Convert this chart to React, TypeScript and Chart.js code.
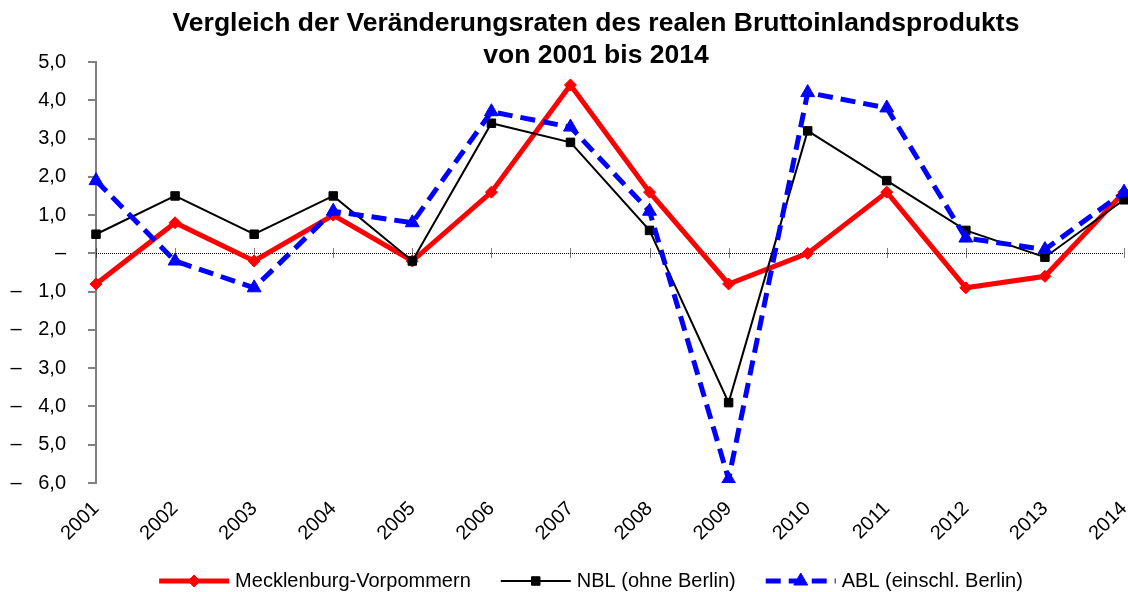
import React, { useEffect, useRef } from 'react';
import { Chart, registerables } from 'chart.js';
import { drawPoint } from 'chart.js/helpers';

Chart.register(...registerables);

const FONT = "'Liberation Sans', Arial, sans-serif";

// ---- data ----
const titleLines = [
  'Vergleich der Veränderungsraten des realen Bruttoinlandsprodukts',
  'von 2001 bis 2014',
];
const years = ['2001', '2002', '2003', '2004', '2005', '2006', '2007', '2008', '2009', '2010', '2011', '2012', '2013', '2014'];
const seriesNames = ['Mecklenburg-Vorpommern', 'NBL (ohne Berlin)', 'ABL (einschl. Berlin)'];
const mvValues = [-0.8, 0.8, -0.2, 1.0, -0.2, 1.6, 4.4, 1.6, -0.8, 0.0, 1.6, -0.9, -0.6, 1.6];
const nblValues = [0.5, 1.5, 0.5, 1.5, -0.2, 3.4, 2.9, 0.6, -3.9, 3.2, 1.9, 0.6, -0.1, 1.4];
const ablValues = [1.9, -0.2, -0.9, 1.1, 0.8, 3.7, 3.3, 1.1, -5.9, 4.2, 3.8, 0.4, 0.1, 1.6];
const yMin = -6;
const yMax = 5;
const yStep = 1;

// ---- layout ----
const W = 1128;
const H = 592;
const Y_AXIS_WIDTH = 96;
const X_AXIS_HEIGHT = 70;
const PLOT_TOP = 62;
const PLOT_BOTTOM_GAP = 39;
const PLOT_RIGHT_GAP = 4;
const TITLE_CENTER_X = 596;
const TITLE_BASELINES = [31, 63];
const LEGEND_CENTER_X = 591;
const LEGEND_Y = 581;

function formatTick(v: number): string {
  if (Math.abs(v) < 1e-9) return '–';
  const s = Math.abs(v).toFixed(1).replace('.', ',');
  return v < 0 ? '–   ' + s : s;
}

const zeroAxisPlugin = {
  id: 'zeroAxis',
  beforeDatasetsDraw(chart: any) {
    const { ctx, chartArea } = chart;
    const x = chart.scales.x;
    const y = chart.scales.y;
    const y0 = Math.round(y.getPixelForValue(0)) + 0.5;
    ctx.save();
    ctx.strokeStyle = '#000';
    ctx.lineWidth = 1;
    ctx.setLineDash([1, 1]);
    ctx.beginPath();
    ctx.moveTo(chartArea.left, y0);
    ctx.lineTo(chartArea.right, y0);
    ctx.stroke();
    for (let i = 0; i < years.length; i++) {
      const px = Math.round(x.getPixelForValue(i)) + 0.5;
      ctx.beginPath();
      ctx.moveTo(px, y0 - 5);
      ctx.lineTo(px, y0 + 5);
      ctx.stroke();
    }
    ctx.restore();
  },
};

const titlePlugin = {
  id: 'customTitle',
  afterDraw(chart: any) {
    const { ctx } = chart;
    ctx.save();
    ctx.font = `bold 26.5px ${FONT}`;
    ctx.fillStyle = '#000';
    ctx.textAlign = 'center';
    ctx.textBaseline = 'alphabetic';
    titleLines.forEach((t, i) => ctx.fillText(t, TITLE_CENTER_X, TITLE_BASELINES[i]));
    ctx.restore();
  },
};

const legendPlugin = {
  id: 'customLegend',
  afterDraw(chart: any) {
    const { ctx } = chart;
    const lineLen = 70;
    const textGap = 6;
    const itemGap = 30;
    ctx.save();
    ctx.font = `20px ${FONT}`;
    const dss = chart.data.datasets;
    const widths = dss.map((ds: any) => lineLen + textGap + ctx.measureText(ds.label).width);
    const total = widths.reduce((a: number, b: number) => a + b, 0) + itemGap * (dss.length - 1);
    let x = LEGEND_CENTER_X - total / 2;
    dss.forEach((ds: any, i: number) => {
      ctx.strokeStyle = ds.borderColor;
      ctx.lineWidth = ds.borderWidth;
      ctx.setLineDash(ds.borderDash || []);
      ctx.lineCap = 'butt';
      ctx.beginPath();
      ctx.moveTo(x, LEGEND_Y);
      ctx.lineTo(x + lineLen, LEGEND_Y);
      ctx.stroke();
      ctx.setLineDash([]);
      ctx.fillStyle = ds.pointBackgroundColor;
      ctx.strokeStyle = ds.pointBorderColor;
      ctx.lineWidth = ds.pointBorderWidth;
      drawPoint(ctx, { pointStyle: ds.pointStyle, rotation: 0, radius: ds.pointRadius, borderWidth: ds.pointBorderWidth } as any, x + lineLen / 2, LEGEND_Y);
      ctx.fillStyle = '#000';
      ctx.textAlign = 'left';
      ctx.textBaseline = 'middle';
      ctx.fillText(ds.label, x + lineLen + textGap, LEGEND_Y);
      x += widths[i] + itemGap;
    });
    ctx.restore();
  },
};

export default function App() {
  const canvasRef = useRef<HTMLCanvasElement | null>(null);

  useEffect(() => {
    document.body.style.margin = '0';
    const canvas = canvasRef.current;
    if (!canvas) return;
    Chart.defaults.font.family = FONT;
    const chart = new Chart(canvas, {
      type: 'line',
      data: {
        labels: years,
        datasets: [
          {
            label: seriesNames[0],
            data: mvValues,
            borderColor: '#FF0000',
            backgroundColor: '#FF0000',
            borderWidth: 5,
            pointStyle: 'rectRot',
            pointRadius: 6,
            pointBackgroundColor: '#FF0000',
            pointBorderColor: '#FF0000',
            pointBorderWidth: 1,
            tension: 0,
            order: 3,
          },
          {
            label: seriesNames[1],
            data: nblValues,
            borderColor: '#000000',
            backgroundColor: '#000000',
            borderWidth: 2,
            pointStyle: 'rect',
            pointRadius: 6,
            pointBackgroundColor: '#000000',
            pointBorderColor: '#000000',
            pointBorderWidth: 1,
            tension: 0,
            order: 2,
          },
          {
            label: seriesNames[2],
            data: ablValues,
            borderColor: '#0000FF',
            backgroundColor: '#0000FF',
            borderWidth: 5,
            borderDash: [15, 8],
            pointStyle: 'triangle',
            pointRadius: 8,
            pointBackgroundColor: '#0000FF',
            pointBorderColor: '#0000FF',
            pointBorderWidth: 1,
            tension: 0,
            order: 1,
          },
        ],
      },
      options: {
        responsive: false,
        animation: false,
        devicePixelRatio: 1,
        layout: {
          autoPadding: false,
          padding: { top: PLOT_TOP, right: PLOT_RIGHT_GAP, bottom: PLOT_BOTTOM_GAP, left: 0 },
        },
        plugins: {
          legend: { display: false },
          title: { display: false },
          tooltip: { enabled: false },
        },
        scales: {
          x: {
            type: 'category',
            offset: false,
            grid: { display: false, drawTicks: false },
            border: { display: false },
            ticks: {
              autoSkip: false,
              maxRotation: 45,
              minRotation: 45,
              color: '#000',
              font: { size: 20, family: FONT },
              padding: 14,
            },
            afterFit(scale: any) {
              scale.paddingLeft = 0;
              scale.paddingRight = 0;
              scale.height = X_AXIS_HEIGHT;
            },
          },
          y: {
            min: yMin,
            max: yMax,
            ticks: {
              stepSize: yStep,
              color: '#000',
              font: { size: 20, family: FONT },
              padding: 22,
              callback: (v: any) => formatTick(Number(v)),
            },
            grid: {
              drawOnChartArea: false,
              drawTicks: true,
              tickLength: 8,
              color: '#808080',
              lineWidth: 2,
            },
            border: { color: '#808080', width: 2 },
            afterFit(scale: any) {
              scale.width = Y_AXIS_WIDTH;
              scale.paddingTop = 0;
              scale.paddingBottom = 0;
            },
          },
        },
      },
      plugins: [zeroAxisPlugin, titlePlugin, legendPlugin],
    });
    return () => chart.destroy();
  }, []);

  return (
    <div style={{ width: W, height: H }}>
      <canvas ref={canvasRef} width={W} height={H} style={{ display: 'block' }} />
    </div>
  );
}
